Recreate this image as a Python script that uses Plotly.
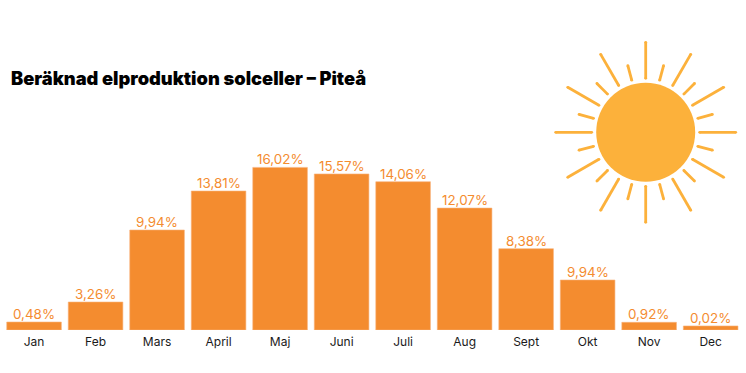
import math
import plotly.graph_objects as go

months = ["Jan", "Feb", "Mars", "April", "Maj", "Juni", "Juli", "Aug", "Sept", "Okt", "Nov", "Dec"]
bar_heights = [0.79, 2.77, 9.9, 13.76, 16.1, 15.45, 14.68, 12.07, 8.05, 4.95, 0.76, 0.4]
value_labels = ["0,48%", "3,26%", "9,94%", "13,81%", "16,02%", "15,57%", "14,06%", "12,07%", "8,38%", "9,94%", "0,92%", "0,02%"]
title_text = "Beräknad elproduktion solceller – Piteå"

W, H = 746, 373
ORANGE = "#F48C2F"
SUN = "#FCB13B"
FONT = "Inter"

fig = go.Figure()
fig.add_bar(
    x=months, y=bar_heights,
    marker=dict(color=ORANGE, line=dict(color="#F9B27A", width=0.6)),
    hoverinfo="skip", width=0.888,
)

# decorative sun, drawn on a full-window pixel overlay
cx, cy, r = 645.7, 132.3, 49.5
xs, ys = [], []
for i in range(24):
    a = math.radians(i * 15)
    r0, r1 = (54, 90) if i % 2 == 0 else (54, 69)
    xs += [cx + r0 * math.sin(a), cx + r1 * math.sin(a), None]
    ys += [cy - r0 * math.cos(a), cy - r1 * math.cos(a), None]
fig.add_scatter(
    x=xs, y=ys, xaxis="x2", yaxis="y2", mode="lines+markers",
    line=dict(color=SUN, width=2.8), marker=dict(color=SUN, size=2.8),
    hoverinfo="skip", showlegend=False,
)
fig.add_shape(type="circle", xref="x2", yref="y2", x0=cx - r, x1=cx + r, y0=cy - r, y1=cy + r,
              fillcolor=SUN, line_width=0)

annotations = [
    dict(x=m, y=h, text=t, xref="x", yref="y", xanchor="center", yanchor="middle", yshift=8,
         showarrow=False, font=dict(family=FONT, size=13.4, color=ORANGE))
    for m, h, t in zip(months, bar_heights, value_labels)
]
annotations.append(dict(text=title_text, xref="paper", yref="paper",
                        x=8.5 / W, y=1 - 78 / H, xanchor="left", yanchor="middle", showarrow=False,
                        font=dict(family=FONT, size=18.3, color="#000000", weight=900)))

fig.update_layout(
    width=W, height=H, margin=dict(l=0, r=0, t=0, b=0, autoexpand=False),
    paper_bgcolor="white", plot_bgcolor="rgba(0,0,0,0)", showlegend=False,
    xaxis=dict(domain=[3.3 / W, 741.4 / W], range=[-0.5, 11.5], showgrid=False, zeroline=False,
               showline=False, ticks="", ticklabelstandoff=3,
               tickfont=dict(family=FONT, size=12, color="#1a1a1a"),
               categoryorder="array", categoryarray=months),
    yaxis=dict(domain=[(H - 330) / H, 1], range=[0, 330 / 10.1], visible=False),
    xaxis2=dict(domain=[0, 1], range=[0, W], anchor="y2", visible=False),
    yaxis2=dict(domain=[0, 1], range=[H, 0], anchor="x2", visible=False),
    annotations=annotations,
)
fig.write_html("out.html", config={"displayModeBar": False}, post_script="document.body.style.margin='0';")
